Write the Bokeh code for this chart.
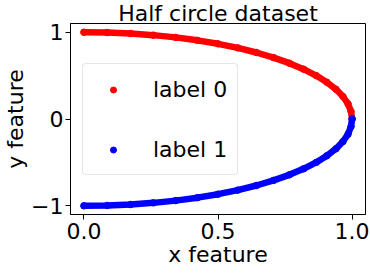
from bokeh.plotting import figure
from bokeh.models import Range1d, FixedTicker, Legend, LegendItem, ColumnDataSource
from bokeh.embed import file_html
from bokeh.resources import INLINE

# Points (quarter arcs of the half circle)
x_label0 = [0.000, 0.087, 0.174, 0.259, 0.342, 0.423, 0.500, 0.574, 0.643, 0.707,
            0.766, 0.819, 0.866, 0.906, 0.940, 0.966, 0.985, 0.996, 1.000]
y_label0 = [1.000, 0.996, 0.985, 0.966, 0.940, 0.906, 0.866, 0.819, 0.766, 0.707,
            0.643, 0.574, 0.500, 0.423, 0.342, 0.259, 0.174, 0.087, 0.000]
x_label1 = [1.000, 0.996, 0.985, 0.966, 0.940, 0.906, 0.866, 0.819, 0.766, 0.707,
            0.643, 0.574, 0.500, 0.423, 0.342, 0.259, 0.174, 0.087, 0.000]
y_label1 = [0.000, -0.087, -0.174, -0.259, -0.342, -0.423, -0.500, -0.574, -0.643, -0.707,
            -0.766, -0.819, -0.866, -0.906, -0.940, -0.966, -0.985, -0.996, -1.000]

series_names = ["label 0", "label 1"]
series_colors = ["#ff0000", "#0000ff"]
x_ticks = [0, 0.5, 1]
x_tick_labels = ["0.0", "0.5", "1.0"]
y_ticks = [-1, 0, 1]
y_tick_labels = ["\u22121", "0", "1"]

FONT = "DejaVu Sans"
FS = "22px"

p = figure(width=370, height=274, output_backend="svg", toolbar_location=None,
           x_range=Range1d(-0.05, 1.05), y_range=Range1d(-1.1, 1.1),
           min_border_left=70, min_border_right=5, min_border_top=23, min_border_bottom=60)

p.title.text = "Half circle dataset"
p.title.text_font = FONT
p.title.text_font_size = FS
p.title.text_font_style = "normal"
p.title.text_color = "black"
p.title.align = "center"
p.title.standoff = -5
p.title.offset = 0
p.title.text_line_height = 1.0

p.xgrid.visible = False
p.ygrid.visible = False
p.outline_line_color = "black"
p.outline_line_width = 1
p.outline_line_alpha = 1

for ax, ticks, labels in ((p.xaxis[0], x_ticks, x_tick_labels), (p.yaxis[0], y_ticks, y_tick_labels)):
    ax.ticker = FixedTicker(ticks=ticks)
    ax.major_label_overrides = {t: l for t, l in zip(ticks, labels)}
    ax.major_label_text_font = FONT
    ax.major_label_text_font_size = FS
    ax.major_label_text_color = "black"
    ax.axis_label_text_font = FONT
    ax.axis_label_text_font_size = FS
    ax.axis_label_text_font_style = "normal"
    ax.axis_label_text_color = "black"
    ax.minor_tick_line_color = None
    ax.major_tick_in = 0
    ax.major_tick_out = 5
    ax.major_tick_line_color = "black"
    ax.axis_line_color = "black"
    ax.major_label_standoff = 3

p.xaxis.axis_label = "x feature"
p.yaxis.axis_label = "y feature"
p.xaxis.axis_label_standoff = 0
p.yaxis.axis_label_standoff = 0
p.yaxis.major_label_standoff = 2

renderers = []
for xs, ys, color in ((x_label0, y_label0, series_colors[0]), (x_label1, y_label1, series_colors[1])):
    src = ColumnDataSource(dict(x=xs, y=ys))
    p.line("x", "y", source=src, line_color=color, line_width=6.5, line_cap="round", line_join="round")
    r = p.scatter("x", "y", source=src, size=6.5, fill_color=color, line_color=color)
    renderers.append(r)

legend = Legend(items=[LegendItem(label=n, renderers=[r]) for n, r in zip(series_names, renderers)],
                location=(12, 39))
legend.label_text_font = FONT
legend.label_text_font_size = FS
legend.label_text_color = "black"
legend.padding = 10
legend.glyph_width = 40
legend.glyph_height = 15
legend.label_height = 30
legend.label_standoff = 20
legend.spacing = 30
legend.margin = 0
legend.border_line_color = "#cccccc"
legend.border_line_width = 1
legend.border_radius = 4
legend.background_fill_color = "white"
legend.background_fill_alpha = 0.8
p.add_layout(legend, "center")

open("out.html", "w").write(file_html(p, INLINE))
